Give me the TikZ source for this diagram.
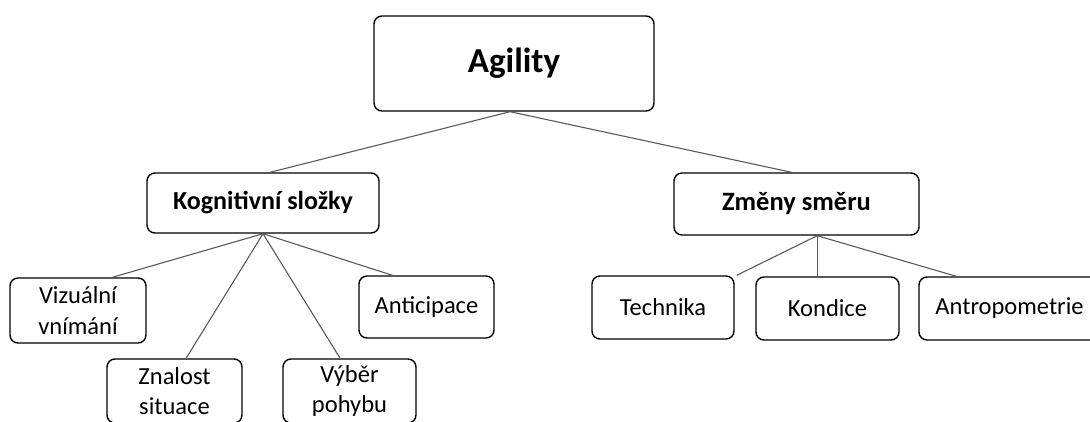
\documentclass[tikz,border=0pt]{standalone}
\usepackage{fontspec}
\setmainfont{Carlito}
\usetikzlibrary{calc}
\begin{document}
\begin{tikzpicture}[x=1pt,y=1pt,
  box/.style={draw=black, line width=1.4pt, rounded corners=8pt, inner sep=0pt, align=center,
    font=\fontsize{24.5}{31}\selectfont},
  conn/.style={draw=black!65, line width=1.1pt}]
\clip (0,0) rectangle (1090,-421);
\node[box, minimum width=280, minimum height=95, font=\bfseries\fontsize{35}{40}\selectfont] (agility) at (514,-63.5) {Agility};
\node[box, minimum width=232, minimum height=60, font=\bfseries\fontsize{26}{30}\selectfont] (kog) at (263,-203) {Kognitivní složky};
\node[box, minimum width=245, minimum height=62, font=\bfseries\fontsize{26.5}{30}\selectfont] (zmeny) at (796.5,-204) {Změny směru};
\node[box, minimum width=136, minimum height=65] (viz) at (78,-310.5) {Vizuální\\vnímání};
\node[box, minimum width=135, minimum height=64, font=\fontsize{24.5}{30}\selectfont] (znal) at (174.5,-391) {Znalost\\situace};
\node[box, minimum width=133, minimum height=64, font=\fontsize{24.5}{30}\selectfont] (vyber) at (349.5,-391) {Výběr\\pohybu};
\node[box, minimum width=135, minimum height=62] (antic) at (426.5,-307) {Anticipace};
\node[box, minimum width=142, minimum height=63] (tech) at (663,-307.5) {Technika};
\node[box, minimum width=143, minimum height=63] (kond) at (827.5,-308.5) {Kondice};
\node[box, minimum width=181, minimum height=63] (antro) at (1009.5,-308.5) {Antropometrie};
\coordinate (agB) at ($(agility.south west)!0.486!(agility.south east)$);
\coordinate (zmB) at ($(zmeny.south west)!0.584!(zmeny.south east)$);
\draw[conn] (agB) -- ($(kog.north west)!0.53!(kog.north east)$);
\draw[conn] (agB) -- ($(zmeny.north west)!0.48!(zmeny.north east)$);
\draw[conn] (kog.south) -- ($(viz.north west)!0.75!(viz.north east)$);
\draw[conn] (kog.south) -- ($(znal.north west)!0.585!(znal.north east)$);
\draw[conn] (kog.south) -- ($(vyber.north west)!0.43!(vyber.north east)$);
\draw[conn] (kog.south) -- ($(antic.north west)!0.25!(antic.north east)$);
\draw[conn] (zmB) -- ($(tech.north east)+(2,0)$);
\draw[conn] (zmB) -- (zmB |- kond.north);
\draw[conn] (zmB) -- ($(antro.north west)+(38,0)$);
\end{tikzpicture}
\end{document}
